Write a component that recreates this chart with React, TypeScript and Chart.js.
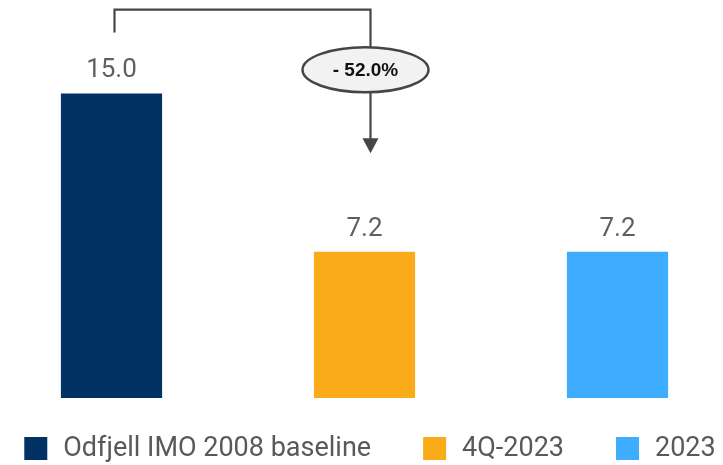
import React, { useEffect, useRef } from "react";
import { Chart, registerables } from "chart.js";

Chart.register(...registerables);

const CATEGORY = [""];
const SERIES_NAMES = ["Odfjell IMO 2008 baseline", "4Q-2023", "2023"];
const SERIES_VALUES = [15.0, 7.2, 7.2];
const SERIES_COLORS = ["#023263", "#f9ab19", "#3fadff"];
const CHANGE_LABEL = "- 52.0%";
// annotation levels in value units
const BRACKET_TOP = 19.13;
const BRACKET_LEFT_END = 18.0;
const BUBBLE_CENTER = 16.16;
const ARROW_TIP = 12.05;
const Y_MAX = 19.6;

const FONT = "Roboto, 'Noto Sans', sans-serif";

const overlayPlugin = {
  id: "overlay",
  afterDraw(chart: any) {
    const ctx = chart.ctx as CanvasRenderingContext2D;
    const y = chart.scales.y;
    const bars = chart.data.datasets.map((_: any, i: number) => chart.getDatasetMeta(i).data[0]);
    ctx.save();
    // value labels
    ctx.font = `26px ${FONT}`;
    ctx.fillStyle = "#5f5f5f";
    ctx.textAlign = "center";
    ctx.textBaseline = "alphabetic";
    bars.forEach((b: any, i: number) => {
      ctx.fillText(SERIES_VALUES[i].toFixed(1), b.x, b.y - 16);
    });

    // bracket
    const lx = bars[0].x + 3;
    const rx = bars[1].x + 6;
    const topY = y.getPixelForValue(BRACKET_TOP);
    const leftEnd = y.getPixelForValue(BRACKET_LEFT_END);
    const cy = y.getPixelForValue(BUBBLE_CENTER);
    const tip = y.getPixelForValue(ARROW_TIP);
    const rxE = 63, ryE = 22.5;
    ctx.strokeStyle = "#454545";
    ctx.lineWidth = 2.2;
    ctx.beginPath();
    ctx.moveTo(lx, leftEnd);
    ctx.lineTo(lx, topY);
    ctx.lineTo(rx, topY);
    ctx.lineTo(rx, cy - ryE);
    ctx.stroke();
    ctx.beginPath();
    ctx.moveTo(rx, cy + ryE);
    ctx.lineTo(rx, tip - 14);
    ctx.stroke();
    ctx.fillStyle = "#454545";
    ctx.beginPath();
    ctx.moveTo(rx - 8, tip - 15);
    ctx.lineTo(rx + 8, tip - 15);
    ctx.lineTo(rx, tip);
    ctx.closePath();
    ctx.fill();
    // bubble
    const cx = rx - 5;
    ctx.beginPath();
    ctx.ellipse(cx, cy, rxE, ryE, 0, 0, Math.PI * 2);
    ctx.fillStyle = "#f2f2f2";
    ctx.fill();
    ctx.lineWidth = 2.5;
    ctx.stroke();
    ctx.fillStyle = "#111111";
    ctx.font = `bold 19px 'Liberation Sans', Arial, sans-serif`;
    ctx.textBaseline = "middle";
    ctx.fillText(CHANGE_LABEL, cx, cy + 1);

    // legend
    ctx.font = `27px ${FONT}`;
    ctx.textAlign = "left";
    ctx.textBaseline = "middle";
    const box = 23, gap = 16, itemGap = 52;
    const widths = SERIES_NAMES.map((t) => box + gap + ctx.measureText(t).width);
    const total = widths.reduce((a, b) => a + b, 0) + itemGap * (widths.length - 1);
    let x = chart.width / 2 + 8.5 - total / 2;
    const ly = 448.5;
    SERIES_NAMES.forEach((t, i) => {
      ctx.fillStyle = SERIES_COLORS[i];
      ctx.fillRect(x, ly - box / 2, box, box);
      ctx.fillStyle = "#595959";
      ctx.fillText(t, x + box + gap, ly + 1);
      x += widths[i] + itemGap;
    });
    ctx.restore();
  },
};

export default function App() {
  const ref = useRef<HTMLCanvasElement | null>(null);
  useEffect(() => {
    if (!ref.current) return;
    const chart = new Chart(ref.current, {
      type: "bar",
      data: {
        labels: CATEGORY,
        datasets: SERIES_NAMES.map((name, i) => ({
          label: name,
          data: [SERIES_VALUES[i]],
          backgroundColor: SERIES_COLORS[i],
          borderWidth: 0,
        })),
      },
      options: {
        animation: false,
        responsive: false,
        devicePixelRatio: 1,
        layout: { padding: { left: 6, right: 0, top: 0, bottom: 67 } },
        datasets: { bar: { categoryPercentage: 1.0586, barPercentage: 0.4 } },
        plugins: { legend: { display: false }, tooltip: { enabled: false } },
        scales: {
          x: { display: false, grid: { display: false } },
          y: { display: false, min: 0, max: Y_MAX, grid: { display: false } },
        },
      },
      plugins: [overlayPlugin],
    });
    return () => chart.destroy();
  }, []);
  return (
    <div style={{ position: "absolute", left: 0, top: 0, width: 723, height: 465 }}>
      <canvas ref={ref} width={723} height={465} />
    </div>
  );
}
